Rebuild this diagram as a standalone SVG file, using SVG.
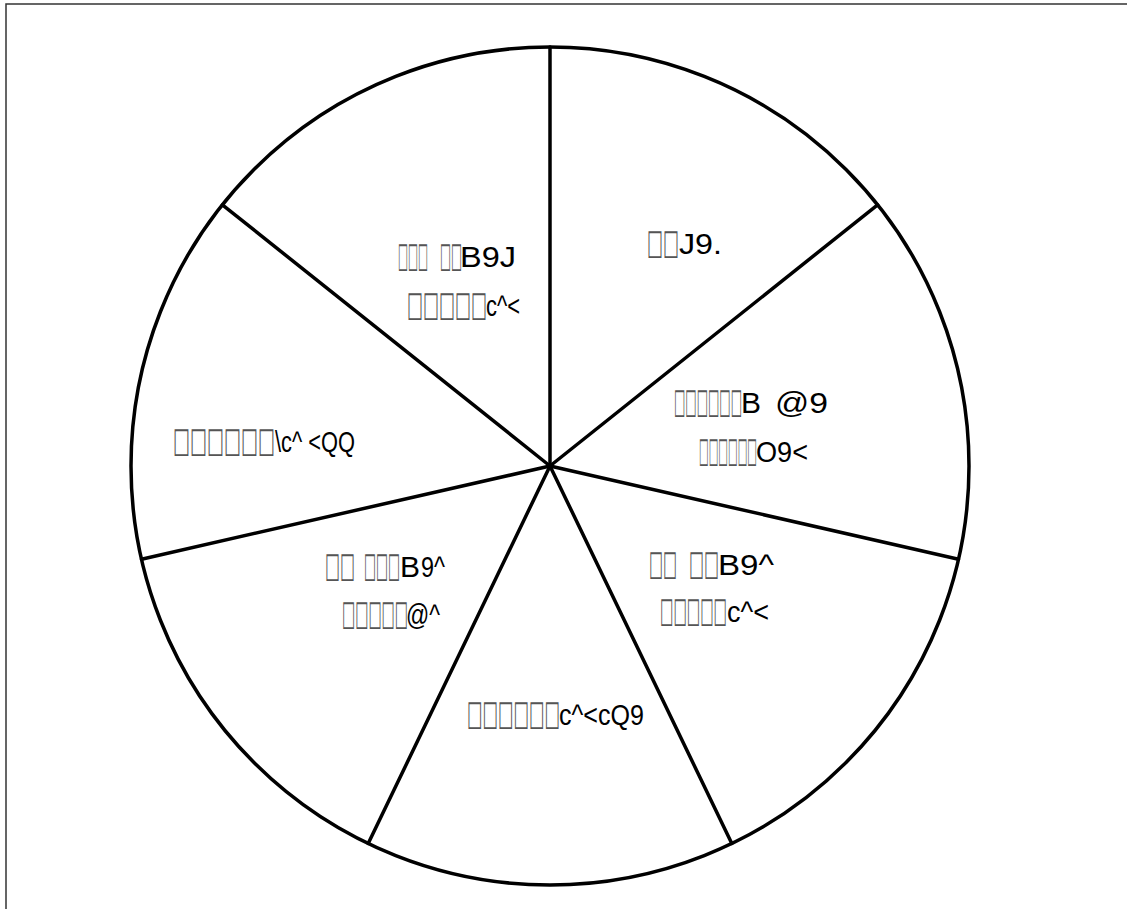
<svg xmlns="http://www.w3.org/2000/svg" width="1127" height="909" viewBox="0 0 1127 909">
<style>
.frame{fill:none;stroke:#333;stroke-width:1.5}
.pie{fill:#fff;stroke:#000;stroke-width:3.5}
.lbl{font-family:"Liberation Sans",Arial,sans-serif;font-size:30px;fill:#000}
.box{font-family:"DejaVu Sans",sans-serif;font-size:35px;fill:#555}
</style>
<rect x="0" y="0" width="1127" height="909" fill="#fff"/>
<path class="frame" d="M6,909 V4 H1127"/>
<g id="pie">
<circle class="pie" cx="550" cy="466" r="419"/>
</g>
<g id="connectors" stroke="#000" stroke-width="3.5" stroke-linecap="round">
<line x1="550" y1="466" x2="550" y2="47"/>
<line x1="550" y1="466" x2="877.6" y2="204.8"/>
<line x1="550" y1="466" x2="958.5" y2="559.2"/>
<line x1="550" y1="466" x2="731.8" y2="843.5"/>
<line x1="550" y1="466" x2="368.2" y2="843.5"/>
<line x1="550" y1="466" x2="141.5" y2="559.2"/>
<line x1="550" y1="466" x2="222.4" y2="204.8"/>
</g>
<g id="slice1">
<text class="lbl" y="254"><tspan class="box" x="647" textLength="32" lengthAdjust="spacingAndGlyphs">□□</tspan><tspan x="679" textLength="43" lengthAdjust="spacingAndGlyphs">J9.</tspan></text>
</g>
<g id="slice2">
<text class="lbl" y="267"><tspan class="box" x="398" textLength="30" lengthAdjust="spacingAndGlyphs">□□□</tspan><tspan class="box" x="440" textLength="22" lengthAdjust="spacingAndGlyphs">□□</tspan><tspan x="460" textLength="56" lengthAdjust="spacingAndGlyphs">B9J</tspan></text>
<text class="lbl" y="316"><tspan class="box" x="407" textLength="80" lengthAdjust="spacingAndGlyphs">□□□□□</tspan><tspan x="486" textLength="34" lengthAdjust="spacingAndGlyphs">c^&lt;</tspan></text>
</g>
<g id="slice3">
<text class="lbl" y="413"><tspan class="box" x="674" textLength="68" lengthAdjust="spacingAndGlyphs">□□□□□□</tspan><tspan x="741">B</tspan><tspan x="775" textLength="53" lengthAdjust="spacingAndGlyphs">@9</tspan></text>
<text class="lbl" y="462"><tspan class="box" x="699" textLength="58" lengthAdjust="spacingAndGlyphs">□□□□□□</tspan><tspan x="756" textLength="52" lengthAdjust="spacingAndGlyphs">O9&lt;</tspan></text>
</g>
<g id="slice4">
<text class="lbl" y="452"><tspan class="box" x="173" textLength="102" lengthAdjust="spacingAndGlyphs">□□□□□□</tspan><tspan x="275" textLength="80" lengthAdjust="spacingAndGlyphs">\c^ &lt;QQ</tspan></text>
</g>
<g id="slice5">
<text class="lbl" y="577"><tspan class="box" x="325" textLength="30" lengthAdjust="spacingAndGlyphs">□□</tspan><tspan class="box" x="364" textLength="36" lengthAdjust="spacingAndGlyphs">□□□</tspan><tspan x="400">B</tspan><tspan x="421" textLength="24" lengthAdjust="spacingAndGlyphs">9^</tspan></text>
<text class="lbl" y="625"><tspan class="box" x="342" textLength="66" lengthAdjust="spacingAndGlyphs">□□□□□</tspan><tspan x="406" textLength="34" lengthAdjust="spacingAndGlyphs">@^</tspan></text>
</g>
<g id="slice6">
<text class="lbl" y="575"><tspan class="box" x="649" textLength="28" lengthAdjust="spacingAndGlyphs">□□</tspan><tspan class="box" x="689" textLength="30" lengthAdjust="spacingAndGlyphs">□□</tspan><tspan x="718" textLength="56" lengthAdjust="spacingAndGlyphs">B9^</tspan></text>
<text class="lbl" y="622"><tspan class="box" x="660" textLength="67" lengthAdjust="spacingAndGlyphs">□□□□□</tspan><tspan x="727" textLength="42" lengthAdjust="spacingAndGlyphs">c^&lt;</tspan></text>
</g>
<g id="slice7">
<text class="lbl" y="725"><tspan class="box" x="467" textLength="93" lengthAdjust="spacingAndGlyphs">□□□□□□</tspan><tspan x="559" textLength="85" lengthAdjust="spacingAndGlyphs">c^&lt;cQ9</tspan></text>
</g>
</svg>
